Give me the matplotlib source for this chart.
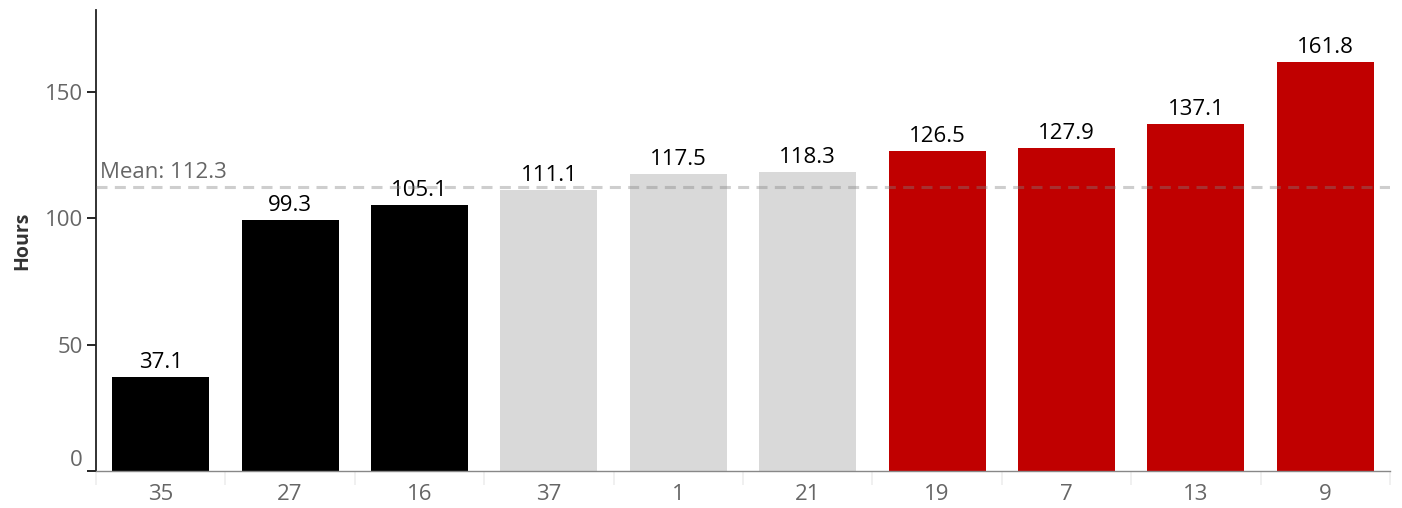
import numpy as np
import matplotlib
matplotlib.use('Agg')
import matplotlib.pyplot as plt

plt.rcParams['font.family'] = ['Open Sans', 'DejaVu Sans']

categories = ['35', '27', '16', '37', '1', '21', '19', '7', '13', '9']
hours = [37.1, 99.3, 105.1, 111.1, 117.5, 118.3, 126.5, 127.9, 137.1, 161.8]
groups = ['low', 'low', 'low', 'mid', 'mid', 'mid', 'high', 'high', 'high', 'high']
mean_hours = 112.3

groupColors = {'low': '#000000', 'mid': '#d9d9d9', 'high': '#c00000'}

fig = plt.figure(figsize=(14.02, 5.08), dpi=100)
ax = fig.add_axes([96/1402, 1 - 471/508, (1390-96)/1402, (471-10)/508])

x = np.arange(len(categories))
colors = [groupColors[g] for g in groups]
ax.bar(x, hours, width=0.75, color=colors, zorder=2)

for xi, h in zip(x, hours):
    ax.text(xi, h + 1.6, '{:.1f}'.format(h), ha='center', va='bottom', fontsize=16, color='black')

# mean reference line, see-through so it shows over the bars
ax.axhline(mean_hours, color='#808080', alpha=0.38, linestyle=(0, (3.6, 2.4)), linewidth=2.2, zorder=3)
ax.text(0.003, mean_hours + 1.8, 'Mean: 112.3', transform=ax.get_yaxis_transform(),
        ha='left', va='bottom', fontsize=16, color='#666666')

ax.set_xlim(-0.5, len(categories) - 0.5)
ax.set_ylim(0, 182.4)
ax.set_xticks(x)
ax.set_xticklabels(categories)
ax.set_yticks([0, 50, 100, 150])

# light separators between categories below the axis
ax.set_xticks(np.arange(-0.5, len(categories)), minor=True)
ax.tick_params(axis='x', which='minor', length=10, color='#eeeeee', width=1.2)
ax.tick_params(axis='x', which='major', length=0, pad=9, labelsize=16, labelcolor='#666666')
ax.tick_params(axis='y', length=6.5, width=1.2, color='black', labelsize=16, labelcolor='#666666', pad=3)
ax.get_yticklabels()[0].set_verticalalignment('bottom')

ax.set_ylabel('Hours', fontsize=14, fontweight='bold', color='#333333', labelpad=9)

for side in ['top', 'right']:
    ax.spines[side].set_visible(False)
ax.spines['left'].set_color('#222222')
ax.spines['left'].set_linewidth(1.3)
ax.spines['bottom'].set_color('#888888')
ax.spines['bottom'].set_linewidth(1)

fig.savefig('out.png', dpi=100)
